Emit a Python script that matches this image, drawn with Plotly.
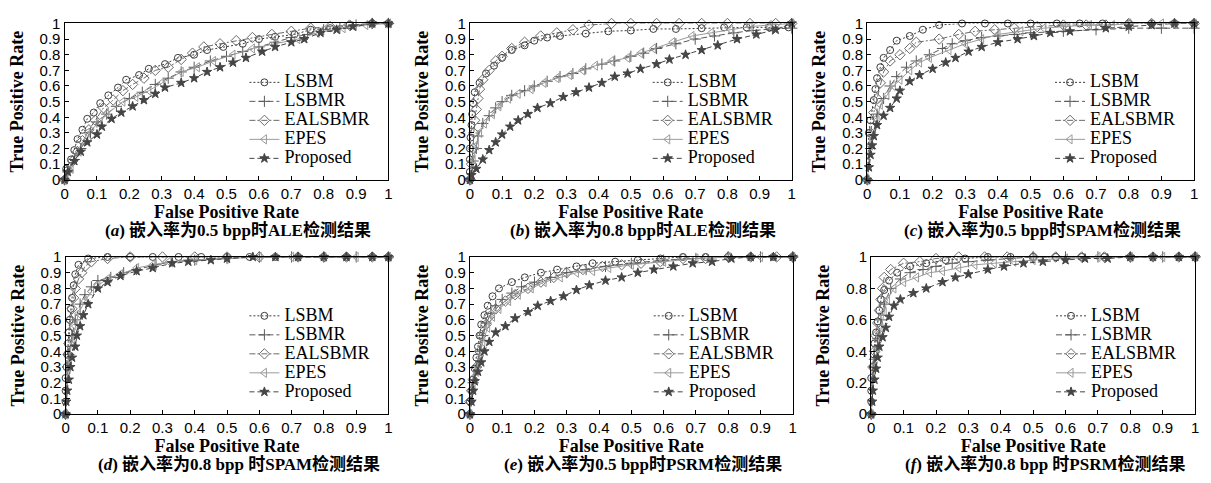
import plotly.graph_objects as go

# ---------------- data ----------------
series_names = ["LSBM", "LSBMR", "EALSBMR", "EPES", "Proposed"]
x_ticks = [0, 0.1, 0.2, 0.3, 0.4, 0.5, 0.6, 0.7, 0.8, 0.9, 1]
x_ticktext = ["0", "0.1", "0.2", "0.3", "0.4", "0.5", "0.6", "0.7", "0.8", "0.9", "1"]
y_ticks_fine = [0, 0.1, 0.2, 0.3, 0.4, 0.5, 0.6, 0.7, 0.8, 0.9, 1]
y_ticktext_fine = ["0", "0.1", "0.2", "0.3", "0.4", "0.5", "0.6", "0.7", "0.8", "0.9", "1"]
y_ticks_coarse = [0, 0.2, 0.4, 0.6, 0.8, 1]
y_ticktext_coarse = ["0", "0.2", "0.4", "0.6", "0.8", "1"]

captions = [
    "(<i>a</i>) 嵌入率为0.5 bpp时ALE检测结果",
    "(<i>b</i>) 嵌入率为0.8 bpp时ALE检测结果",
    "(<i>c</i>) 嵌入率为0.5 bpp时SPAM检测结果",
    "(<i>d</i>) 嵌入率为0.8 bpp 时SPAM检测结果",
    "(<i>e</i>) 嵌入率为0.5 bpp时PSRM检测结果",
    "(<i>f</i>) 嵌入率为0.8 bpp 时PSRM检测结果",
]
x_title = "False Positive Rate"
y_title = "True Positive Rate"

# panel (a) ALE 0.5 bpp
a_lsbm_fpr = [0, 0.005, 0.02, 0.03, 0.04, 0.055, 0.07, 0.09, 0.11, 0.135, 0.165, 0.19, 0.23, 0.26, 0.31, 0.35, 0.40, 0.44, 0.49, 0.55, 0.60, 0.65, 0.71, 0.76, 0.82, 0.88, 0.95, 1.0]
a_lsbm_tpr = [0, 0.07, 0.13, 0.19, 0.26, 0.32, 0.39, 0.43, 0.49, 0.54, 0.59, 0.64, 0.67, 0.71, 0.74, 0.78, 0.80, 0.83, 0.85, 0.87, 0.90, 0.915, 0.93, 0.96, 0.97, 0.99, 1.0, 1.0]
a_lsbmr_fpr = [0, 0.01, 0.03, 0.05, 0.08, 0.1, 0.13, 0.16, 0.2, 0.24, 0.28, 0.32, 0.36, 0.4, 0.45, 0.5, 0.55, 0.6, 0.65, 0.7, 0.75, 0.8, 0.85, 0.9, 0.95, 1.0]
a_lsbmr_tpr = [0, 0.05, 0.13, 0.2, 0.3, 0.37, 0.42, 0.47, 0.52, 0.56, 0.61, 0.65, 0.69, 0.72, 0.76, 0.79, 0.82, 0.85, 0.88, 0.91, 0.93, 0.96, 0.97, 0.99, 1.0, 1.0]
a_ealsbmr_fpr = [0, 0.01, 0.025, 0.04, 0.055, 0.075, 0.095, 0.12, 0.15, 0.18, 0.21, 0.245, 0.28, 0.32, 0.36, 0.395, 0.43, 0.48, 0.53, 0.58, 0.64, 0.70, 0.76, 0.82, 0.88, 0.95, 1.0]
a_ealsbmr_tpr = [0, 0.06, 0.12, 0.18, 0.25, 0.32, 0.38, 0.46, 0.51, 0.57, 0.61, 0.65, 0.70, 0.72, 0.77, 0.81, 0.85, 0.87, 0.89, 0.91, 0.93, 0.95, 0.97, 0.98, 0.99, 1.0, 1.0]
a_epes_fpr = [0, 0.02, 0.045, 0.07, 0.11, 0.13, 0.18, 0.22, 0.26, 0.3, 0.36, 0.41, 0.46, 0.52, 0.58, 0.65, 0.72, 0.78, 0.86, 0.93, 1.0]
a_epes_tpr = [0, 0.07, 0.18, 0.3, 0.37, 0.42, 0.5, 0.53, 0.57, 0.62, 0.69, 0.72, 0.76, 0.8, 0.84, 0.87, 0.9, 0.94, 0.97, 0.99, 1.0]
a_prop_fpr = [0, 0.01, 0.03, 0.05, 0.07, 0.1, 0.115, 0.145, 0.175, 0.21, 0.245, 0.28, 0.31, 0.36, 0.4, 0.44, 0.48, 0.52, 0.56, 0.61, 0.65, 0.7, 0.74, 0.79, 0.84, 0.89, 0.95, 1.0]
a_prop_tpr = [0, 0.05, 0.12, 0.18, 0.24, 0.29, 0.34, 0.39, 0.43, 0.47, 0.51, 0.55, 0.59, 0.62, 0.65, 0.69, 0.72, 0.75, 0.78, 0.82, 0.85, 0.88, 0.9, 0.94, 0.96, 0.98, 1.0, 1.0]

# panel (b) ALE 0.8 bpp
b_lsbm_fpr = [0, 0, 0, 0, 0.002, 0.005, 0.007, 0.01, 0.015, 0.03, 0.05, 0.075, 0.1, 0.13, 0.17, 0.2, 0.24, 0.28, 0.36, 0.43, 0.5, 0.57, 0.64, 0.72, 0.79, 0.86, 0.93, 0.99]
b_lsbm_tpr = [0, 0.05, 0.13, 0.2, 0.27, 0.35, 0.42, 0.49, 0.56, 0.62, 0.68, 0.73, 0.78, 0.83, 0.86, 0.89, 0.91, 0.92, 0.935, 0.95, 0.955, 0.965, 0.965, 0.97, 0.975, 0.975, 0.975, 0.975]
b_lsbmr_fpr = [0, 0.01, 0.02, 0.025, 0.04, 0.06, 0.08, 0.1, 0.13, 0.17, 0.2, 0.24, 0.28, 0.32, 0.36, 0.41, 0.45, 0.5, 0.54, 0.58, 0.64, 0.7, 0.76, 0.82, 0.88, 0.94, 1.0]
b_lsbmr_tpr = [0, 0.12, 0.2, 0.28, 0.36, 0.41, 0.46, 0.5, 0.54, 0.57, 0.6, 0.63, 0.66, 0.68, 0.71, 0.74, 0.76, 0.79, 0.81, 0.84, 0.87, 0.9, 0.92, 0.94, 0.955, 0.965, 0.97]
b_ealsbmr_fpr = [0, 0.005, 0.01, 0.012, 0.015, 0.02, 0.025, 0.03, 0.04, 0.06, 0.08, 0.1, 0.13, 0.17, 0.22, 0.27, 0.32, 0.37, 0.44, 0.5, 0.58, 0.65, 0.72, 0.8, 0.87, 0.95, 1.0]
b_ealsbmr_tpr = [0, 0.1, 0.2, 0.3, 0.38, 0.45, 0.52, 0.58, 0.64, 0.7, 0.76, 0.79, 0.84, 0.88, 0.92, 0.94, 0.96, 0.99, 1.0, 1.0, 1.0, 1.0, 1.0, 1.0, 1.0, 1.0, 1.0]
b_epes_fpr = [0, 0.01, 0.02, 0.03, 0.045, 0.07, 0.09, 0.12, 0.15, 0.19, 0.23, 0.27, 0.31, 0.35, 0.39, 0.44, 0.49, 0.53, 0.57, 0.63, 0.69, 0.75, 0.81, 0.87, 0.93, 1.0]
b_epes_tpr = [0, 0.13, 0.22, 0.3, 0.36, 0.42, 0.47, 0.52, 0.55, 0.58, 0.62, 0.65, 0.67, 0.7, 0.73, 0.76, 0.78, 0.81, 0.84, 0.88, 0.92, 0.94, 0.96, 0.98, 0.99, 1.0]
b_prop_fpr = [0, 0.005, 0.02, 0.04, 0.06, 0.08, 0.1, 0.125, 0.15, 0.18, 0.21, 0.25, 0.29, 0.33, 0.37, 0.41, 0.45, 0.49, 0.53, 0.58, 0.62, 0.67, 0.72, 0.77, 0.83, 0.89, 0.95, 1.0]
b_prop_tpr = [0, 0.03, 0.07, 0.13, 0.19, 0.24, 0.29, 0.34, 0.38, 0.42, 0.46, 0.49, 0.53, 0.56, 0.59, 0.62, 0.66, 0.68, 0.71, 0.74, 0.77, 0.8, 0.83, 0.86, 0.9, 0.93, 0.96, 1.0]

# panel (c) SPAM 0.5 bpp
c_lsbm_fpr = [0, 0.005, 0.01, 0.02, 0.025, 0.03, 0.04, 0.05, 0.07, 0.09, 0.13, 0.17, 0.22, 0.29, 0.36, 0.43, 0.5, 0.58, 0.65, 0.72, 0.8, 0.87, 0.94, 1.0]
c_lsbm_tpr = [0, 0.3, 0.38, 0.51, 0.58, 0.65, 0.72, 0.78, 0.83, 0.89, 0.92, 0.96, 0.99, 1.0, 1.0, 1.0, 1.0, 1.0, 1.0, 1.0, 1.0, 1.0, 1.0, 1.0]
c_lsbmr_fpr = [0, 0.01, 0.03, 0.05, 0.07, 0.09, 0.12, 0.15, 0.19, 0.23, 0.26, 0.3, 0.35, 0.4, 0.45, 0.5, 0.6, 0.7, 0.8, 0.9, 1.0]
c_lsbmr_tpr = [0, 0.2, 0.42, 0.52, 0.6, 0.66, 0.72, 0.76, 0.8, 0.84, 0.87, 0.89, 0.91, 0.92, 0.93, 0.94, 0.95, 0.96, 0.97, 0.97, 0.97]
c_ealsbmr_fpr = [0, 0.01, 0.02, 0.03, 0.04, 0.05, 0.07, 0.1, 0.13, 0.15, 0.22, 0.28, 0.33, 0.39, 0.45, 0.52, 0.6, 0.67, 0.73, 0.8, 0.87, 0.94, 1.0]
c_ealsbmr_tpr = [0, 0.3, 0.43, 0.52, 0.62, 0.69, 0.76, 0.8, 0.84, 0.88, 0.9, 0.93, 0.95, 0.96, 0.97, 0.98, 0.99, 0.99, 0.99, 1.0, 1.0, 1.0, 1.0]
c_epes_fpr = [0, 0.01, 0.03, 0.04, 0.06, 0.08, 0.1, 0.13, 0.16, 0.19, 0.25, 0.3, 0.35, 0.4, 0.47, 0.54, 0.6, 0.68, 0.75, 0.8, 0.9, 1.0]
c_epes_tpr = [0, 0.22, 0.38, 0.48, 0.54, 0.6, 0.64, 0.7, 0.75, 0.78, 0.83, 0.87, 0.9, 0.93, 0.95, 0.97, 0.98, 0.99, 0.99, 1.0, 1.0, 1.0]
c_prop_fpr = [0, 0.005, 0.01, 0.015, 0.02, 0.03, 0.05, 0.07, 0.09, 0.1, 0.13, 0.16, 0.2, 0.24, 0.27, 0.31, 0.35, 0.4, 0.46, 0.51, 0.56, 0.62, 0.73, 0.8, 0.87, 0.94, 1.0]
c_prop_tpr = [0, 0.08, 0.16, 0.22, 0.28, 0.35, 0.41, 0.46, 0.52, 0.57, 0.63, 0.67, 0.71, 0.75, 0.78, 0.82, 0.85, 0.88, 0.9, 0.92, 0.94, 0.95, 0.97, 0.98, 0.99, 1.0, 1.0]

# panel (d) SPAM 0.8 bpp
d_lsbm_fpr = [0, 0, 0, 0, 0.003, 0.005, 0.007, 0.01, 0.013, 0.016, 0.02, 0.025, 0.03, 0.04, 0.07, 0.13, 0.2, 0.27, 0.35, 0.42, 0.5, 0.57, 0.65, 0.72, 0.8, 0.87, 0.95, 1.0]
d_lsbm_tpr = [0, 0.08, 0.15, 0.23, 0.3, 0.38, 0.45, 0.52, 0.6, 0.67, 0.74, 0.82, 0.89, 0.95, 0.99, 1.0, 1.0, 1.0, 1.0, 1.0, 1.0, 1.0, 1.0, 1.0, 1.0, 1.0, 1.0, 1.0]
d_lsbmr_fpr = [0, 0.01, 0.02, 0.03, 0.045, 0.06, 0.08, 0.1, 0.14, 0.18, 0.22, 0.28, 0.33, 0.4, 0.5, 0.6, 0.7, 0.8, 0.9, 1.0]
d_lsbmr_tpr = [0, 0.38, 0.5, 0.6, 0.7, 0.76, 0.81, 0.85, 0.87, 0.9, 0.92, 0.95, 0.97, 0.98, 0.99, 1.0, 1.0, 1.0, 1.0, 1.0]
d_ealsbmr_fpr = [0, 0.005, 0.008, 0.01, 0.012, 0.015, 0.02, 0.025, 0.03, 0.04, 0.05, 0.06, 0.08, 0.13, 0.2, 0.3, 0.4, 0.5, 0.6, 0.72, 0.8, 0.87, 0.95, 1.0]
d_ealsbmr_tpr = [0, 0.3, 0.38, 0.45, 0.52, 0.6, 0.67, 0.74, 0.8, 0.86, 0.9, 0.94, 0.97, 0.99, 1.0, 1.0, 1.0, 1.0, 1.0, 1.0, 1.0, 1.0, 1.0, 1.0]
d_epes_fpr = [0, 0.01, 0.02, 0.03, 0.04, 0.06, 0.08, 0.1, 0.13, 0.17, 0.22, 0.27, 0.32, 0.4, 0.5, 0.6, 0.7, 0.8, 0.9, 1.0]
d_epes_tpr = [0, 0.35, 0.46, 0.56, 0.64, 0.72, 0.78, 0.82, 0.86, 0.89, 0.93, 0.95, 0.97, 0.98, 0.99, 1.0, 1.0, 1.0, 1.0, 1.0]
d_prop_fpr = [0, 0.002, 0.005, 0.01, 0.015, 0.02, 0.03, 0.035, 0.045, 0.055, 0.07, 0.1, 0.13, 0.17, 0.22, 0.27, 0.33, 0.38, 0.45, 0.5, 0.58, 0.65, 0.72, 0.8, 0.87, 0.95, 1.0]
d_prop_tpr = [0, 0.08, 0.15, 0.22, 0.3, 0.36, 0.43, 0.5, 0.56, 0.63, 0.7, 0.8, 0.84, 0.88, 0.91, 0.93, 0.96, 0.97, 0.98, 0.99, 1.0, 1.0, 1.0, 1.0, 1.0, 1.0, 1.0]

# panel (e) PSRM 0.5 bpp
e_lsbm_fpr = [0, 0, 0.005, 0.01, 0.015, 0.02, 0.025, 0.03, 0.035, 0.045, 0.055, 0.07, 0.09, 0.13, 0.17, 0.22, 0.27, 0.33, 0.38, 0.45, 0.52, 0.59, 0.66, 0.73, 0.8, 0.87, 0.94, 1.0]
e_lsbm_tpr = [0, 0.08, 0.15, 0.22, 0.29, 0.36, 0.43, 0.5, 0.57, 0.63, 0.69, 0.75, 0.8, 0.84, 0.87, 0.9, 0.92, 0.94, 0.96, 0.97, 0.98, 0.99, 1.0, 1.0, 1.0, 1.0, 1.0, 1.0]
e_lsbmr_fpr = [0, 0.01, 0.02, 0.03, 0.04, 0.05, 0.065, 0.08, 0.1, 0.13, 0.16, 0.2, 0.25, 0.3, 0.36, 0.42, 0.5, 0.6, 0.7, 0.8, 0.9, 1.0]
e_lsbmr_tpr = [0, 0.2, 0.3, 0.4, 0.5, 0.58, 0.64, 0.69, 0.73, 0.77, 0.81, 0.84, 0.87, 0.9, 0.92, 0.94, 0.96, 0.98, 0.99, 1.0, 1.0, 1.0]
e_ealsbmr_fpr = [0, 0, 0.005, 0.01, 0.02, 0.03, 0.035, 0.05, 0.06, 0.08, 0.11, 0.14, 0.18, 0.22, 0.26, 0.3, 0.35, 0.41, 0.47, 0.53, 0.59, 0.66, 0.73, 0.8, 0.87, 0.95, 1.0]
e_ealsbmr_tpr = [0, 0.08, 0.15, 0.22, 0.3, 0.4, 0.5, 0.57, 0.62, 0.67, 0.72, 0.76, 0.8, 0.84, 0.87, 0.9, 0.92, 0.94, 0.95, 0.96, 0.97, 0.99, 0.99, 1.0, 1.0, 1.0, 1.0]
e_epes_fpr = [0, 0.01, 0.02, 0.03, 0.04, 0.055, 0.07, 0.09, 0.12, 0.15, 0.19, 0.23, 0.28, 0.33, 0.38, 0.43, 0.5, 0.6, 0.7, 0.8, 0.9, 1.0]
e_epes_tpr = [0, 0.18, 0.27, 0.36, 0.46, 0.55, 0.62, 0.67, 0.72, 0.76, 0.8, 0.84, 0.87, 0.9, 0.91, 0.93, 0.95, 0.97, 0.99, 1.0, 1.0, 1.0]
e_prop_fpr = [0, 0.005, 0.01, 0.015, 0.025, 0.035, 0.045, 0.06, 0.08, 0.11, 0.14, 0.18, 0.21, 0.25, 0.29, 0.33, 0.37, 0.42, 0.47, 0.52, 0.57, 0.63, 0.69, 0.75, 0.81, 0.87, 0.94, 1.0]
e_prop_tpr = [0, 0.08, 0.15, 0.21, 0.27, 0.33, 0.4, 0.46, 0.52, 0.56, 0.61, 0.65, 0.69, 0.72, 0.75, 0.79, 0.82, 0.85, 0.87, 0.9, 0.92, 0.94, 0.96, 0.97, 0.99, 1.0, 1.0, 1.0]

# panel (f) PSRM 0.8 bpp
f_lsbm_fpr = [0, 0, 0, 0, 0.005, 0.008, 0.01, 0.015, 0.02, 0.025, 0.03, 0.04, 0.055, 0.08, 0.12, 0.17, 0.23, 0.29, 0.36, 0.43, 0.5, 0.57, 0.65, 0.72, 0.8, 0.87, 0.95, 1.0]
f_lsbm_tpr = [0, 0.08, 0.15, 0.23, 0.3, 0.38, 0.45, 0.52, 0.59, 0.66, 0.73, 0.79, 0.85, 0.9, 0.94, 0.96, 0.98, 0.99, 1.0, 1.0, 1.0, 1.0, 1.0, 1.0, 1.0, 1.0, 1.0, 1.0]
f_lsbmr_fpr = [0, 0.01, 0.02, 0.03, 0.04, 0.06, 0.09, 0.12, 0.16, 0.2, 0.25, 0.3, 0.36, 0.43, 0.5, 0.6, 0.7, 0.8, 0.9, 1.0]
f_lsbmr_tpr = [0, 0.35, 0.48, 0.6, 0.7, 0.8, 0.86, 0.9, 0.92, 0.94, 0.96, 0.97, 0.98, 0.99, 1.0, 1.0, 1.0, 1.0, 1.0, 1.0]
f_ealsbmr_fpr = [0, 0.005, 0.01, 0.015, 0.02, 0.025, 0.03, 0.035, 0.04, 0.06, 0.1, 0.15, 0.2, 0.27, 0.35, 0.42, 0.5, 0.57, 0.65, 0.72, 0.8, 0.87, 0.95, 1.0]
f_ealsbmr_tpr = [0, 0.3, 0.4, 0.5, 0.58, 0.66, 0.73, 0.8, 0.87, 0.92, 0.96, 0.97, 0.99, 1.0, 1.0, 1.0, 1.0, 1.0, 1.0, 1.0, 1.0, 1.0, 1.0, 1.0]
f_epes_fpr = [0, 0.01, 0.02, 0.03, 0.04, 0.05, 0.07, 0.1, 0.14, 0.18, 0.22, 0.27, 0.32, 0.38, 0.44, 0.5, 0.6, 0.7, 0.8, 0.9, 1.0]
f_epes_tpr = [0, 0.3, 0.42, 0.55, 0.65, 0.73, 0.8, 0.84, 0.87, 0.9, 0.91, 0.93, 0.95, 0.96, 0.97, 0.98, 0.99, 1.0, 1.0, 1.0, 1.0]
f_prop_fpr = [0, 0.003, 0.005, 0.01, 0.015, 0.02, 0.025, 0.035, 0.045, 0.055, 0.07, 0.09, 0.13, 0.17, 0.22, 0.26, 0.3, 0.36, 0.41, 0.47, 0.53, 0.6, 0.66, 0.73, 0.8, 0.87, 0.95, 1.0]
f_prop_tpr = [0, 0.08, 0.15, 0.22, 0.29, 0.36, 0.43, 0.49, 0.55, 0.62, 0.69, 0.73, 0.77, 0.8, 0.84, 0.87, 0.89, 0.92, 0.94, 0.96, 0.97, 0.98, 0.99, 0.99, 1.0, 1.0, 1.0, 1.0]

panel_data = [
    [(a_lsbm_fpr, a_lsbm_tpr), (a_lsbmr_fpr, a_lsbmr_tpr), (a_ealsbmr_fpr, a_ealsbmr_tpr), (a_epes_fpr, a_epes_tpr), (a_prop_fpr, a_prop_tpr)],
    [(b_lsbm_fpr, b_lsbm_tpr), (b_lsbmr_fpr, b_lsbmr_tpr), (b_ealsbmr_fpr, b_ealsbmr_tpr), (b_epes_fpr, b_epes_tpr), (b_prop_fpr, b_prop_tpr)],
    [(c_lsbm_fpr, c_lsbm_tpr), (c_lsbmr_fpr, c_lsbmr_tpr), (c_ealsbmr_fpr, c_ealsbmr_tpr), (c_epes_fpr, c_epes_tpr), (c_prop_fpr, c_prop_tpr)],
    [(d_lsbm_fpr, d_lsbm_tpr), (d_lsbmr_fpr, d_lsbmr_tpr), (d_ealsbmr_fpr, d_ealsbmr_tpr), (d_epes_fpr, d_epes_tpr), (d_prop_fpr, d_prop_tpr)],
    [(e_lsbm_fpr, e_lsbm_tpr), (e_lsbmr_fpr, e_lsbmr_tpr), (e_ealsbmr_fpr, e_ealsbmr_tpr), (e_epes_fpr, e_epes_tpr), (e_prop_fpr, e_prop_tpr)],
    [(f_lsbm_fpr, f_lsbm_tpr), (f_lsbmr_fpr, f_lsbmr_tpr), (f_ealsbmr_fpr, f_ealsbmr_tpr), (f_epes_fpr, f_epes_tpr), (f_prop_fpr, f_prop_tpr)],
]

# ---------------- styling ----------------
W, H = 1211, 483
styles = [
    dict(color="#3c3c3c", dash="2px,2px", symbol="circle-open", size=7),
    dict(color="#5a5a5a", dash="6px,3px", symbol="cross-thin-open", size=8),
    dict(color="#6a6a6a", dash="6px,2px,2px,2px", symbol="diamond-open", size=8),
    dict(color="#9a9a9a", dash="solid", symbol="triangle-left-open", size=8),
    dict(color="#454545", dash="5px,3px", symbol="star", size=7),
]

# plot areas in pixels: (left, right, top, bottom)
boxes = [
    (61, 387, 15, 177), (469, 793, 15, 177), (869, 1198, 15, 177),
    (62, 387, 257, 420), (469, 794, 257, 420), (873, 1199, 257, 420),
]

SANS = "Liberation Sans, Arial, sans-serif"
SERIF = "Liberation Serif, Times New Roman, serif"
CJK = "Liberation Serif, Times New Roman, Noto Sans CJK SC, serif"

fig = go.Figure()
layout = dict(width=W, height=H, margin=dict(l=0, r=0, t=0, b=0),
              paper_bgcolor="white", plot_bgcolor="white", annotations=[])

for i, (box, series) in enumerate(zip(boxes, panel_data)):
    l, r, t, b = box
    xa = "xaxis" if i == 0 else f"xaxis{i+1}"
    ya = "yaxis" if i == 0 else f"yaxis{i+1}"
    xref = "x" if i == 0 else f"x{i+1}"
    yref = "y" if i == 0 else f"y{i+1}"
    lg = "legend" if i == 0 else f"legend{i+1}"
    for name, (xs, ys), st in zip(series_names, series, styles):
        fig.add_trace(go.Scatter(
            x=xs, y=ys,
            name=f'<span style="font-size:18px;font-family:Liberation Serif,Times New Roman,serif">{name}</span>',
            mode="lines+markers", xaxis=xref, yaxis=yref,
            legend=lg, cliponaxis=False,
            line=dict(color=st["color"], width=1, dash=st["dash"]),
            marker=dict(symbol=st["symbol"], size=st["size"], color=st["color"],
                        line=dict(color=st["color"], width=1)),
        ))
    fine = i != 5
    axis_common = dict(showline=True, mirror=True, linecolor="black", linewidth=1.3,
                       ticks="inside", ticklen=4, tickcolor="black", tickwidth=1,
                       showgrid=False, zeroline=False, range=[0, 1],
                       tickfont=dict(family=SANS, size=15, color="black"))
    layout[xa] = dict(domain=[l / W, r / W], anchor=yref,
                      tickvals=x_ticks, ticktext=x_ticktext,
                      title=dict(text=f"<b>{x_title}</b>", standoff=0,
                                 font=dict(family=SERIF, size=18, color="black")),
                      **axis_common)
    layout[ya] = dict(domain=[1 - b / H, 1 - t / H], anchor=xref,
                      tickvals=y_ticks_fine if fine else y_ticks_coarse,
                      ticktext=y_ticktext_fine if fine else y_ticktext_coarse,
                      title=dict(text=f"<b>{y_title}</b>", standoff=11,
                                 font=dict(family=SERIF, size=18, color="black")),
                      **axis_common)
    layout[lg] = dict(x=(r - 145) / W, y=1 - (t + 46) / H, xanchor="left", yanchor="top",
                      xref="paper", yref="paper", bgcolor="rgba(0,0,0,0)",
                      font=dict(family=SERIF, size=12, color="black"),
                      itemwidth=30, tracegroupgap=0)
    layout["annotations"].append(dict(
        text=f"<b>{captions[i]}</b>", xref="paper", yref="paper",
        x=((l + r) / 2 + 12) / W, y=1 - (b + 52) / H, xanchor="center", yanchor="middle",
        showarrow=False, font=dict(family=CJK, size=17, color="black")))

fig.update_layout(**layout)
fig.write_html("out.html", config={"displayModeBar": False},
               post_script="document.body.style.margin='0px';")
